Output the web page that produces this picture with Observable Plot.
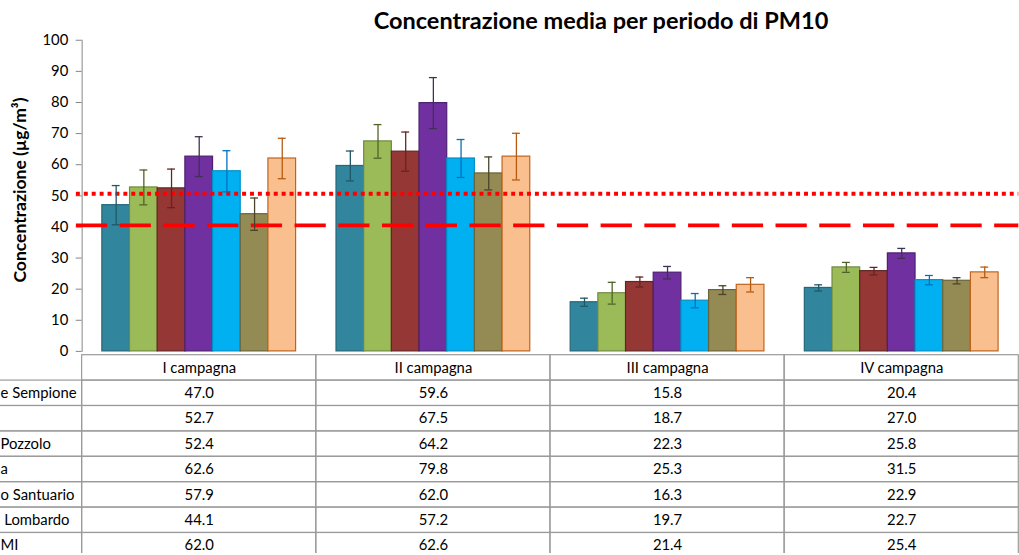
<!DOCTYPE html>
<html>
<head>
<meta charset="utf-8">
<script src="https://cdn.jsdelivr.net/npm/d3@7"></script>
<script src="https://cdn.jsdelivr.net/npm/@observablehq/plot@0.6"></script>
<style>
  html, body { margin: 0; padding: 0; background: #fff; overflow: hidden; }
  #wrap { position: relative; width: 1019px; height: 555px; overflow: hidden; font-family: Lato, "DejaVu Sans", sans-serif; color: #000; }
  #title { position: absolute; left: 0; width: 1202px; top: 6px; text-align: center; font-weight: bold; font-size: 23.5px; line-height: 28px; white-space: nowrap; }
  #ytitle { position: absolute; left: 18.5px; top: 189.5px; transform: translate(-50%, -50%) rotate(-90deg); font-weight: bold; font-size: 17.5px; white-space: nowrap; }
  .layer { position: absolute; left: 0; top: 0; }
  #table { position: absolute; left: 0; top: 354px; }
  svg { overflow: hidden; }
</style>
</head>
<body>
<div id="wrap">
  <div id="table"></div>
  <div id="chart" class="layer"></div>
  <div id="limits" class="layer"></div>
  <div id="errbars" class="layer"></div>
  <div id="title">Concentrazione media per periodo di PM10</div>
  <div id="ytitle">Concentrazione (µg/m³)</div>
</div>
<script>
// ---- data ----
const campagne = ["I campagna", "II campagna", "III campagna", "IV campagna"];
const stazioni = ["e Sempione", "", "Pozzolo", "a", "o Santuario", " Lombardo", "MI"];
const valoriI   = [47.0, 52.7, 52.4, 62.6, 57.9, 44.1, 62.0];
const valoriII  = [59.6, 67.5, 64.2, 79.8, 62.0, 57.2, 62.6];
const valoriIII = [15.8, 18.7, 22.3, 25.3, 16.3, 19.7, 21.4];
const valoriIV  = [20.4, 27.0, 25.8, 31.5, 22.9, 22.7, 25.4];
const erroriI   = [6.3, 5.6, 6.2, 6.4, 6.6, 5.2, 6.5];
const erroriII  = [4.8, 5.4, 6.3, 8.2, 6.1, 5.3, 7.5];
const erroriIII = [1.3, 3.5, 1.6, 2.0, 2.3, 1.4, 2.3];
const erroriIV  = [1.0, 1.6, 1.2, 1.6, 1.5, 1.0, 1.7];
const limiteTratteggiato = [40.5];
const limitePuntinato = [50.7];
const yTicks = [0, 10, 20, 30, 40, 50, 60, 70, 80, 90, 100];

// ---- styles ----
const coloriBarre = ["#31859C", "#9BBB59", "#953735", "#7030A0", "#00B0F0", "#948A54", "#F9BF8F"];
const coloriBordo = ["#25667A", "#71893F", "#632523", "#4B2070", "#0090C8", "#6A6339", "#C0631C"];
const coloriErr   = ["#1F5966", "#4F6228", "#632523", "#403152", "#0070C0", "#494429", "#B65A10"];

// ---- build rows ----
const valori = [valoriI, valoriII, valoriIII, valoriIV];
const errori = [erroriI, erroriII, erroriIII, erroriIV];
const keys = stazioni.map((s, j) => "s" + j);
const rows = [];
campagne.forEach((c, i) => stazioni.forEach((s, j) => rows.push({
  campagna: c, key: keys[j], j, value: valori[i][j], err: errori[i][j]
})));

const W = 1030;
const x0 = 82.5, step = 236.7;
const font = { fontFamily: "Lato, sans-serif", fontSize: "15px", color: "#000", background: "transparent" };

function layer(marks, faceted = true) {
  return Plot.plot({
    width: W, height: 372,
    marginLeft: x0, marginRight: W - (x0 + 4 * step), marginTop: 40.2, marginBottom: 17.3,
    style: font,
    ...(faceted ? { fx: { domain: campagne, padding: 0, round: false, axis: null } } : {}),
    x: { domain: keys, paddingInner: 0, paddingOuter: 0.73, round: false, axis: null },
    y: { domain: [0, 100], range: [354.7, 40.2], axis: null },
    color: { type: "identity" },
    marks
  });
}

// bars + axis
document.getElementById("chart").appendChild(layer([
  Plot.frame({ anchor: "left", facetAnchor: "left", stroke: "#868686" }),
  Plot.axisY({ ticks: yTicks, tickSize: 6, tickPadding: 8, stroke: "#868686", fill: "#000", label: null }),
  Plot.barY(rows, { fx: "campagna", x: "key", y: "value",
    fill: d => coloriBarre[d.j], stroke: d => coloriBordo[d.j], strokeWidth: 1.2 })
]));

// limit lines (one continuous line across the whole frame)
document.getElementById("limits").appendChild(layer([
  Plot.ruleY(limitePuntinato, { stroke: "#FF0000", strokeWidth: 4, strokeDasharray: "4 4", insetLeft: -5.8 }),
  Plot.ruleY(limiteTratteggiato, { stroke: "#FF0000", strokeWidth: 4, strokeDasharray: "31.6 12.6", insetLeft: -5.8 })
], false));

// error bars
document.getElementById("errbars").appendChild(layer([
  Plot.ruleX(rows, { fx: "campagna", x: "key", y1: d => d.value - d.err, y2: d => d.value + d.err,
    stroke: d => coloriErr[d.j], strokeWidth: 1.3 }),
  Plot.tickY(rows, { fx: "campagna", x: "key", y: d => d.value + d.err,
    stroke: d => coloriErr[d.j], strokeWidth: 1.3, insetLeft: 10, insetRight: 10 }),
  Plot.tickY(rows, { fx: "campagna", x: "key", y: d => d.value - d.err,
    stroke: d => coloriErr[d.j], strokeWidth: 1.3, insetLeft: 10, insetRight: 10 })
]));

// ---- data table ----
const colonne = ["__label", ...campagne];
const celle = [];
campagne.forEach(c => celle.push({ col: c, row: "hdr" }));
keys.forEach(k => colonne.forEach(c => celle.push({ col: c, row: k })));
const rowH = 25.67;

const table = Plot.plot({
  width: W, height: 201,
  marginLeft: 0, marginRight: 0, marginTop: 0, marginBottom: 0,
  style: font,
  x: { domain: colonne, range: [x0 - step, x0 + 4 * step], padding: 0, round: false, axis: null },
  y: { domain: ["hdr", ...keys], range: [0.7, 0.7 + 8 * rowH], padding: 0, round: false, axis: null },
  marks: [
    Plot.cell(celle, { x: "col", y: "row", fill: "none", stroke: "#9A9A9A", strokeWidth: 1.2 }),
    Plot.text(campagne, { x: d => d, y: () => "hdr", text: d => d, fill: "#000" }),
    Plot.text(rows, { x: "campagna", y: "key", text: d => d.value.toFixed(1), fill: "#000" }),
    Plot.text(stazioni, { y: (d, j) => keys[j], text: d => d, frameAnchor: "left", textAnchor: "start", fill: "#000" })
  ]
});
document.getElementById("table").appendChild(table);
</script>
</body>
</html>
